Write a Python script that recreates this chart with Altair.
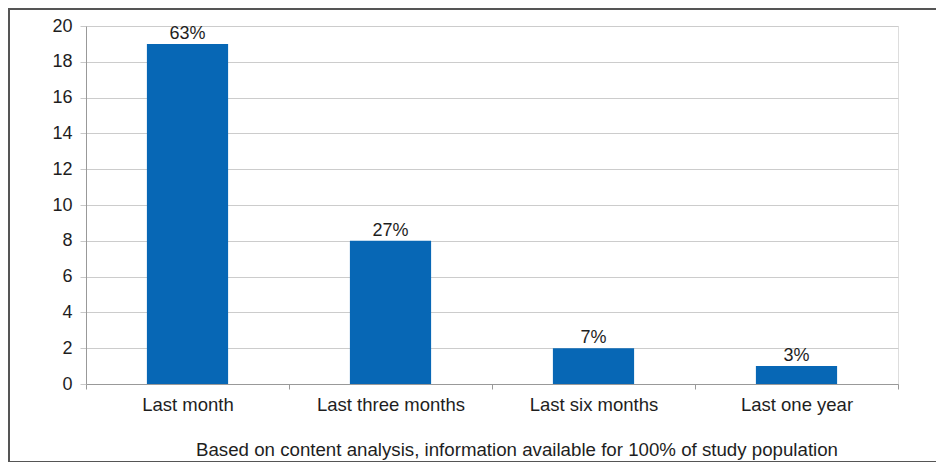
import altair as alt
import pandas as pd

categories = ["Last month", "Last three months", "Last six months", "Last one year"]
counts = [19, 8, 2, 1]
pct_labels = ["63%", "27%", "7%", "3%"]
y_ticks = [0, 2, 4, 6, 8, 10, 12, 14, 16, 18, 20]
footnote = "Based on content analysis, information available for 100% of study population"

df = pd.DataFrame({"cat": categories, "n": counts, "lab": pct_labels})

FONT = "Arial"
BLUE = "#0767B5"
TXT = "#1e1e1e"

x_enc = alt.X("cat:N", sort=categories, title=None,
              scale=alt.Scale(paddingInner=0, paddingOuter=0),
              axis=alt.Axis(labelAngle=0, labelFontSize=18.5, labelColor=TXT,
                            labelFont=FONT, labelPadding=6, tickBand="extent",
                            tickColor="#999999", tickSize=5, domainColor="#999999",
                            labelOverlap=False, grid=False))
y_enc = alt.Y("n:Q", title=None,
              scale=alt.Scale(domain=[0, 20], nice=False),
              axis=alt.Axis(values=y_ticks, labelFontSize=18, labelColor=TXT,
                            labelFont=FONT, labelPadding=8, tickSize=6,
                            labelOverlap=False,
                            tickColor="#c8c8c8", domainColor="#999999",
                            gridColor="#cccccc", gridWidth=1))

bars = alt.Chart(df).mark_bar(width=alt.RelativeBandSize(0.4), color=BLUE).encode(
    x=x_enc, y=y_enc)

labels = alt.Chart(df).mark_text(baseline="alphabetic", dy=-5, fontSize=18, font=FONT,
                                 color=TXT).encode(
    x=x_enc, y=y_enc, text="lab:N")

note = alt.Chart(pd.DataFrame({"t": [footnote]})).mark_text(
    fontSize=18.7, font=FONT, color=TXT, baseline="middle", align="center").encode(
    x=alt.value(431), y=alt.value(424), text="t:N")

frame = alt.Chart(pd.DataFrame({"a": [0]})).mark_rect(
    fillOpacity=0, stroke="#555555", strokeWidth=2, clip=False).encode(
    x=alt.value(-77), x2=alt.value(860), y=alt.value(-17), y2=alt.value(436))

chart = alt.layer(frame, bars, labels, note).properties(
    width=812, height=358,
    autosize=alt.AutoSizeParams(type="none"),
    padding={"left": 78, "top": 18, "right": 38, "bottom": 78},
).configure_view(stroke=None).configure(background="white")

chart.save("out.html", embed_options={"renderer": "svg", "actions": False})
